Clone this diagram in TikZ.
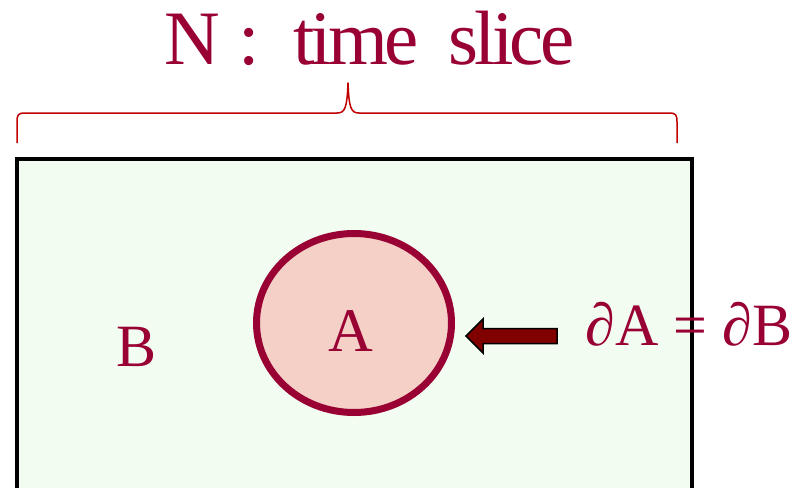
\documentclass[tikz,border=0pt]{standalone}
\usepackage{fontspec}
\setmainfont{Liberation Serif}
\usetikzlibrary{shapes.geometric}
\definecolor{wine}{RGB}{153,0,51}
\definecolor{bracered}{RGB}{192,0,0}
\definecolor{boxfill}{RGB}{242,252,240}
\definecolor{cellfill}{RGB}{244,208,198}
\definecolor{arrowfill}{RGB}{128,0,0}
\tikzset{
  lbl/.style={text=wine, inner sep=0pt, anchor=base},
}
\begin{document}
\begin{tikzpicture}[x=1pt,y=-1pt]
\useasboundingbox (0,0) rectangle (800,487);
\clip (0,0) rectangle (800,487);
% time slice box
\draw[line width=4pt, fill=boxfill] (17,159) rectangle (692,530);
% brace
\draw[bracered, line width=1.5pt, line join=round]
  (17,143) -- (17,122) .. controls (17,115) and (18,113) .. (25,113)
  -- (337,113) .. controls (345,113) and (347,108) .. (348,83)
  .. controls (349,108) and (351,113) .. (359,113)
  -- (669,113) .. controls (676,113) and (677,115) .. (677,122) -- (677,143);
% title
\node[lbl, anchor=base west, font=\fontsize{77}{77}\selectfont\addfontfeature{LetterSpace=-5}] (title) at (164,64)
  {N\hspace{19pt}:\hspace{33pt}time\hspace{30pt}slice};
% region A
\node[draw=wine, line width=7pt, fill=cellfill, ellipse, minimum width=195pt, minimum height=179pt, inner sep=0pt] (cell) at (354,323) {};
\node[lbl, font=\fontsize{62}{62}\selectfont] (a) at (350.5,351) {A};
\node[lbl, font=\fontsize{60}{60}\selectfont] (b) at (137,366) {B};
% arrow
\draw[line width=1.5pt, fill=arrowfill, line join=miter]
  (557,328.5) -- (483,328.5) -- (483,319) -- (466,336) -- (483,353) -- (483,343.5) -- (557,343.5) -- cycle;
\node[lbl, font=\fontsize{60}{60}\selectfont] (eq) at (689,345) {∂A = ∂B};
\end{tikzpicture}
\end{document}
